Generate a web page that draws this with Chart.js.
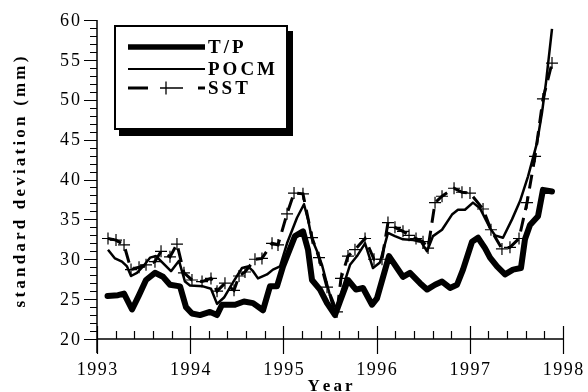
<!DOCTYPE html>
<html>
<head>
<meta charset="utf-8">
<script src="https://cdn.jsdelivr.net/npm/chart.js@4"></script>
<style>
  html, body { margin: 0; padding: 0; background: #fff; }
  canvas { display: block; }
</style>
</head>
<body>
<canvas id="grafico" width="588" height="392"></canvas>
<script>
// T/P (thick line)
const tpYears = [1993.113, 1993.225, 1993.290, 1993.376, 1993.451, 1993.526, 1993.622, 1993.708, 1993.783, 1993.891,
  1993.955, 1994.019, 1994.105, 1994.212, 1994.288, 1994.341, 1994.481, 1994.577, 1994.674, 1994.781,
  1994.856, 1994.931, 1994.996, 1995.124, 1995.210, 1995.264, 1995.307, 1995.393, 1995.468, 1995.554,
  1995.607, 1995.693, 1995.779, 1995.854, 1995.951, 1996.004, 1996.133, 1996.219, 1996.283, 1996.358,
  1996.466, 1996.541, 1996.627, 1996.702, 1996.788, 1996.863, 1996.927, 1997.024, 1997.088, 1997.163,
  1997.217, 1997.292, 1997.378, 1997.464, 1997.549, 1997.592, 1997.646, 1997.732, 1997.785, 1997.882];
const tpValues = [25.4, 25.5, 25.7, 23.7, 25.5, 27.4, 28.3, 27.8, 26.8, 26.6,
  24.0, 23.2, 23.0, 23.4, 23.0, 24.3, 24.3, 24.7, 24.5, 23.6,
  26.6, 26.6, 29.1, 32.9, 33.5, 31.2, 27.4, 26.2, 24.5, 23.0,
  24.7, 27.4, 26.2, 26.4, 24.3, 25.1, 30.4, 28.9, 27.8, 28.3,
  27.0, 26.2, 26.8, 27.2, 26.4, 26.8, 28.7, 32.2, 32.7, 31.4,
  30.2, 29.1, 28.1, 28.7, 28.9, 32.5, 34.3, 35.4, 38.7, 38.5];

// POCM (thin line)
const pocmYears = [1993.118, 1993.193, 1993.268, 1993.322, 1993.365, 1993.429, 1993.494, 1993.569, 1993.633, 1993.708,
  1993.794, 1993.880, 1993.944, 1993.998, 1994.137, 1994.223, 1994.288, 1994.363, 1994.459, 1994.556,
  1994.620, 1994.674, 1994.727, 1994.824, 1994.888, 1994.964, 1995.039, 1995.146, 1995.221, 1995.264,
  1995.307, 1995.361, 1995.414, 1995.521, 1995.554, 1995.715, 1995.790, 1995.876, 1995.961, 1996.036,
  1996.122, 1996.197, 1996.283, 1996.391, 1996.476, 1996.541, 1996.605, 1996.702, 1996.809, 1996.873,
  1996.948, 1997.034, 1997.109, 1997.217, 1997.270, 1997.356, 1997.453, 1997.539, 1997.625, 1997.721,
  1997.775, 1997.818, 1997.882];
const pocmValues = [31.2, 30.1, 29.7, 29.1, 27.9, 28.3, 29.1, 30.2, 30.4, 29.5,
  28.5, 29.8, 27.2, 26.7, 26.6, 26.3, 24.4, 25.2, 27.1, 28.9,
  29.1, 28.5, 27.6, 28.1, 28.7, 29.1, 32.0, 35.2, 36.9, 35.0,
  32.5, 31.0, 29.3, 24.5, 23.4, 29.3, 30.4, 32.0, 28.9, 29.6,
  33.3, 32.9, 32.5, 32.4, 32.2, 31.0, 32.9, 33.7, 35.6, 36.2,
  36.2, 37.1, 36.4, 33.9, 33.0, 32.7, 35.0, 37.3, 40.4, 44.6,
  48.4, 52.2, 58.9];

// SST (dashed with + markers)
const sstYears = [1993.118, 1993.204, 1993.290, 1993.365, 1993.451, 1993.526, 1993.622, 1993.687, 1993.783, 1993.858,
  1993.933, 1994.019, 1994.127, 1994.223, 1994.288, 1994.373, 1994.470, 1994.524, 1994.588, 1994.695,
  1994.770, 1994.878, 1994.942, 1995.039, 1995.114, 1995.210, 1995.307, 1995.382, 1995.468, 1995.575,
  1995.618, 1995.693, 1995.768, 1995.876, 1995.972, 1996.058, 1996.122, 1996.197, 1996.283, 1996.348,
  1996.423, 1996.498, 1996.552, 1996.627, 1996.702, 1996.831, 1996.916, 1997.002, 1997.142, 1997.227,
  1997.345, 1997.431, 1997.528, 1997.614, 1997.700, 1997.785, 1997.882];
const sstValues = [32.6, 32.4, 31.8, 28.7, 29.0, 29.3, 29.7, 31.0, 30.3, 31.9,
  28.3, 27.4, 27.2, 27.6, 26.0, 27.0, 26.1, 27.9, 28.4, 30.0,
  30.1, 32.0, 31.8, 35.7, 38.3, 38.2, 32.7, 30.2, 26.5, 23.4,
  27.6, 30.4, 31.2, 32.6, 30.0, 30.0, 34.6, 34.0, 33.5, 33.0,
  32.6, 32.2, 31.4, 37.1, 37.9, 38.9, 38.4, 38.3, 36.3, 33.7,
  31.3, 31.5, 32.6, 37.1, 42.9, 50.1, 54.6];

const xTicks = [1993, 1994, 1995, 1996, 1997, 1998];
const yTicks = [20, 25, 30, 35, 40, 45, 50, 55, 60];
const serieNomes = ["T/P", "POCM", "SST"];

const pares = (xs, ys) => xs.map((x, i) => ({ x, y: ys[i] }));

// letter-spaced text, drawn char by char
function textoEspacado(ctx, texto, x, y, gap, align) {
  const chars = [...texto];
  const w = chars.map(c => ctx.measureText(c).width);
  const total = w.reduce((a, b) => a + b, 0) + gap * (chars.length - 1);
  let cx = align === "center" ? x - total / 2 : align === "right" ? x - total : x;
  ctx.textAlign = "left";
  chars.forEach((c, i) => { ctx.fillText(c, cx, y); cx += w[i] + gap; });
}

const eixos = {
  id: "eixos",
  afterDraw(chart) {
    const { ctx, chartArea: a, scales: { x, y } } = chart;
    ctx.save();
    ctx.strokeStyle = "#000";
    ctx.fillStyle = "#000";

    // axis lines
    ctx.lineWidth = 1.5;
    ctx.beginPath();
    ctx.moveTo(a.left, a.top); ctx.lineTo(a.left, a.bottom + 14);
    ctx.moveTo(a.left, a.bottom); ctx.lineTo(a.right, a.bottom);
    ctx.stroke();

    // y ticks (every 1, major every 5, pointing out)
    ctx.lineWidth = 1.2;
    ctx.beginPath();
    for (let v = 20; v <= 60; v++) {
      const py = Math.round(y.getPixelForValue(v)) + 0.5;
      ctx.moveTo(a.left - (v % 5 === 0 ? 13 : 7), py);
      ctx.lineTo(a.left, py);
    }
    // x ticks (every 0.2 year, minor inward, major crossing)
    for (let i = 0; i <= 25; i++) {
      const px = Math.round(x.getPixelForValue(1993 + i * 0.2)) + 0.5;
      if (i % 5 === 0) { ctx.moveTo(px, a.bottom - 13); ctx.lineTo(px, a.bottom + 15); }
      else { ctx.moveTo(px, a.bottom - 8); ctx.lineTo(px, a.bottom); }
    }
    ctx.stroke();

    // tick labels
    ctx.font = "18px 'Liberation Serif'";
    ctx.textBaseline = "middle";
    yTicks.forEach(v => textoEspacado(ctx, String(v), 80, y.getPixelForValue(v) + 1, 2, "right"));
    ctx.textBaseline = "alphabetic";
    xTicks.forEach(v => textoEspacado(ctx, String(v), x.getPixelForValue(v), 375, 1.5, "center"));

    // axis titles
    ctx.font = "bold 17px 'Liberation Serif'";
    textoEspacado(ctx, "Year", (a.left + a.right) / 2, 391, 3, "center");
    ctx.save();
    ctx.translate(25, 182);
    ctx.rotate(-Math.PI / 2);
    textoEspacado(ctx, "standard deviation (mm)", 0, 0, 3.2, "center");
    ctx.restore();
    ctx.restore();
  }
};

const legenda = {
  id: "legenda",
  afterDraw(chart) {
    const ctx = chart.ctx;
    ctx.save();
    // shadow + box
    ctx.fillStyle = "#000";
    ctx.fillRect(119, 31, 174, 105);
    ctx.fillStyle = "#fff";
    ctx.fillRect(114, 25, 174, 105);
    ctx.strokeStyle = "#000";
    ctx.lineWidth = 2;
    ctx.strokeRect(115, 26, 172, 103);

    const ys = [47, 69, 88];
    // T/P
    ctx.lineWidth = 5.5;
    ctx.beginPath(); ctx.moveTo(128, ys[0]); ctx.lineTo(205, ys[0]); ctx.stroke();
    // POCM
    ctx.lineWidth = 2;
    ctx.beginPath(); ctx.moveTo(128, ys[1]); ctx.lineTo(205, ys[1]); ctx.stroke();
    // SST
    ctx.lineWidth = 3;
    ctx.beginPath();
    ctx.moveTo(128, ys[2]); ctx.lineTo(148, ys[2]);
    ctx.moveTo(198, ys[2]); ctx.lineTo(205, ys[2]);
    ctx.stroke();
    ctx.lineWidth = 1.3;
    ctx.beginPath();
    ctx.moveTo(160, ys[2]); ctx.lineTo(183, ys[2]);
    ctx.moveTo(166, ys[2] - 6.5); ctx.lineTo(166, ys[2] + 6.5);
    ctx.stroke();

    ctx.fillStyle = "#000";
    ctx.font = "bold 19px 'Liberation Serif'";
    ctx.textBaseline = "middle";
    serieNomes.forEach((n, i) => textoEspacado(ctx, n, 208, ys[i] + 1, 3, "left"));
    ctx.restore();
  }
};

new Chart(document.getElementById("grafico").getContext("2d"), {
  type: "line",
  data: {
    datasets: [
      { label: serieNomes[0], data: pares(tpYears, tpValues), borderColor: "#000", borderWidth: 6,
        pointRadius: 0, tension: 0, borderJoinStyle: "round", borderCapStyle: "round" },
      { label: serieNomes[1], data: pares(pocmYears, pocmValues), borderColor: "#000", borderWidth: 2.5,
        pointRadius: 0, tension: 0, borderJoinStyle: "round" },
      { label: serieNomes[2], data: pares(sstYears, sstValues), borderColor: "#000", borderWidth: 3,
        borderDash: [14, 8], tension: 0, pointStyle: "cross", pointRadius: 6, pointBorderWidth: 1.2,
        pointBorderColor: "#000", pointBackgroundColor: "#000" }
    ]
  },
  options: {
    responsive: false,
    animation: false,
    devicePixelRatio: 1,
    layout: { padding: { top: 20, right: 25, left: 0, bottom: 0 } },
    plugins: { legend: { display: false }, tooltip: { enabled: false } },
    scales: {
      x: { type: "linear", min: 1993, max: 1998, grid: { display: false }, border: { display: false },
        ticks: { display: false }, afterFit: s => { s.height = 53; } },
      y: { min: 20, max: 60, grid: { display: false }, border: { display: false },
        ticks: { display: false }, afterFit: s => { s.width = 97; } }
    }
  },
  plugins: [eixos, legenda]
});
</script>
</body>
</html>
